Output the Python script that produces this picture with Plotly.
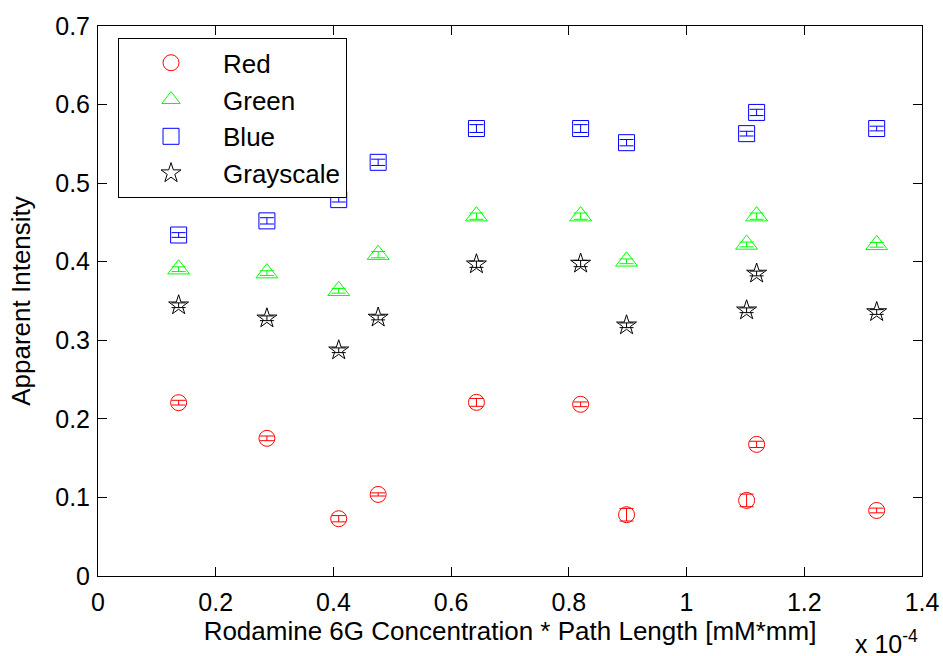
import plotly.graph_objects as go

# x in units of 1e-4 mM*mm
x_vals = [0.137, 0.287, 0.409, 0.476, 0.643, 0.820, 0.898, 1.102, 1.119, 1.323]

red = [0.2206, 0.1752, 0.0729, 0.1038, 0.2210, 0.2185, 0.0780, 0.0962, 0.1675, 0.0834]
red_err = [0.003, 0.003, 0.004, 0.002, 0.005, 0.003, 0.008, 0.008, 0.004, 0.003]

green = [0.3905, 0.3855, 0.3630, 0.4090, 0.4580, 0.4580, 0.4005, 0.4220, 0.4580, 0.4215]
green_err = [0.003, 0.003, 0.003, 0.004, 0.004, 0.004, 0.003, 0.003, 0.004, 0.003]

blue = [0.4340, 0.4520, 0.4790, 0.5265, 0.5695, 0.5695, 0.5515, 0.5630, 0.5900, 0.5695]
blue_err = [0.003, 0.004, 0.003, 0.004, 0.005, 0.005, 0.004, 0.003, 0.004, 0.003]

gray = [0.3446, 0.3280, 0.2873, 0.3290, 0.3968, 0.3977, 0.3191, 0.3382, 0.3850, 0.3360]
gray_err = [0.003, 0.003, 0.003, 0.003, 0.004, 0.004, 0.003, 0.003, 0.003, 0.003]

series = [
    ("Red", red, red_err, "#FF0000", "circle-open", 16),
    ("Green", green, green_err, "#00FF00", "triangle-up-open", 19),
    ("Blue", blue, blue_err, "#0000FF", "square-open", 16),
    ("Grayscale", gray, gray_err, "#000000", "star-open", 15),
]

FONT = "Liberation Sans, Arial, sans-serif"
fig = go.Figure()
for name, ys, errs, color, sym, size in series:
    fig.add_trace(go.Scatter(
        x=x_vals, y=ys, mode="markers", name=name, legendgroup=name,
        marker=dict(symbol=sym, size=size, color=color, line=dict(color=color, width=1)),
        error_y=dict(type="data", array=errs, visible=True, color=color, thickness=1, width=7),
    ))

axis_common = dict(
    showline=True, linecolor="black", linewidth=1, mirror="ticks",
    ticks="inside", ticklen=9, tickcolor="black", tickwidth=1,
    showgrid=False, zeroline=False, automargin=False,
    tickfont=dict(family=FONT, size=25, color="black"),
)

fig.update_layout(
    width=943, height=656,
    margin=dict(l=98, r=21, t=26, b=80),
    paper_bgcolor="white", plot_bgcolor="white",
    font=dict(family=FONT, size=25, color="black"),
    xaxis=dict(range=[0, 1.4], dtick=0.2, tick0=0,
               title=dict(text="Rodamine 6G Concentration * Path Length [mM*mm]", standoff=5,
                          font=dict(family=FONT, size=26, color="black")),
               ticklabelstandoff=4, **axis_common),
    yaxis=dict(range=[0, 0.7], dtick=0.1, tick0=0,
               title=dict(text="Apparent Intensity", standoff=17,
                          font=dict(family=FONT, size=26, color="black")),
               ticklabelstandoff=2, **axis_common),
    showlegend=True,
    legend=dict(x=0.0243, y=0.9776, xanchor="left", yanchor="top",
                bgcolor="white", bordercolor="black", borderwidth=1,
                font=dict(family=FONT, size=26, color="black"),
                itemwidth=94, tracegroupgap=5, traceorder="normal"),
    annotations=[dict(text="x 10<sup>-4</sup>", xref="paper", yref="paper",
                      x=(853 - 98) / 824, y=-(659 - 575.5) / 549.5,
                      xanchor="left", yanchor="bottom", showarrow=False,
                      font=dict(family=FONT, size=25, color="black"))],
)

fig.write_html("out.html")
